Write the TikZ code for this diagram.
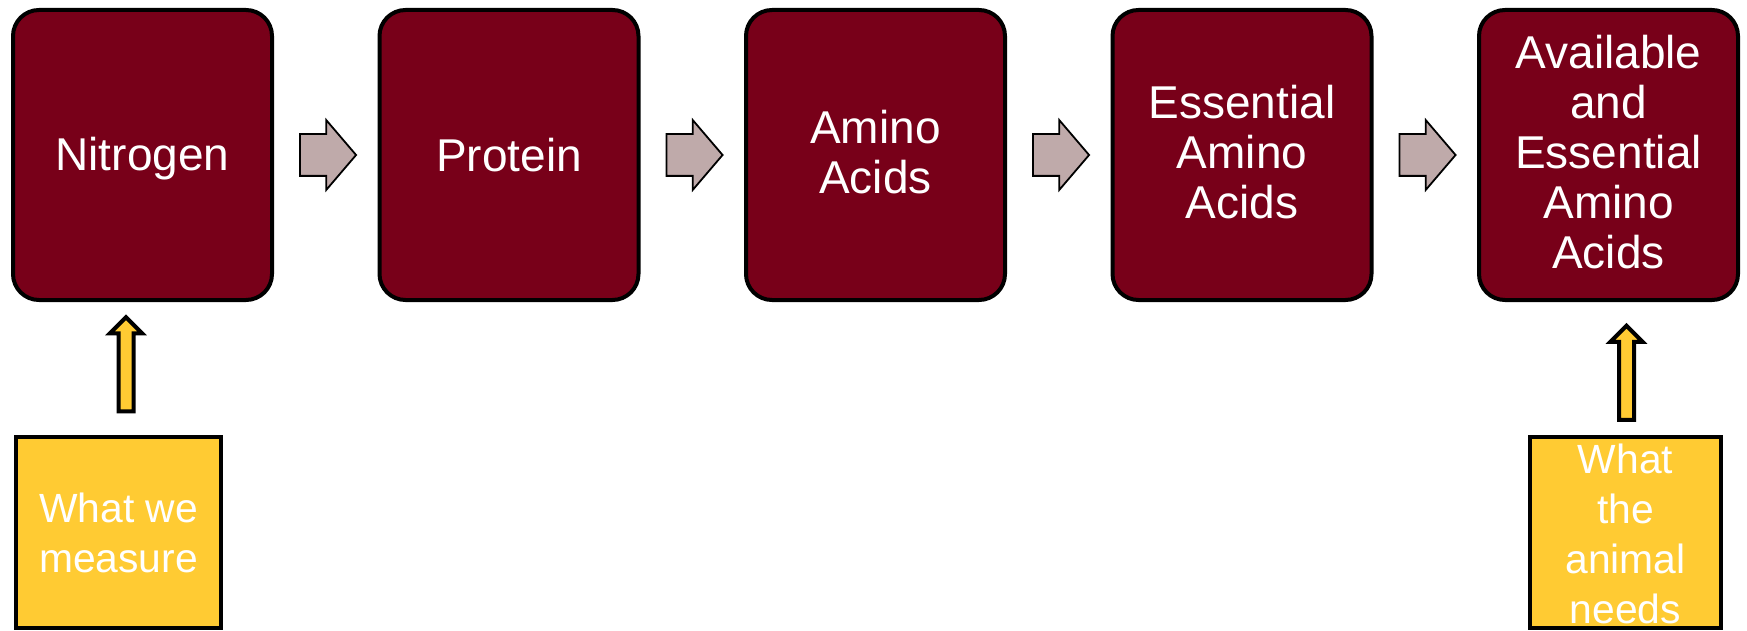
\documentclass[tikz,border=0pt]{standalone}
\usepackage{fontspec}
\setmainfont{Liberation Sans}
\usetikzlibrary{positioning,shapes.arrows,calc}
\definecolor{maroon}{RGB}{120,0,25}
\definecolor{chevfill}{RGB}{191,170,170}
\definecolor{notefill}{RGB}{255,203,51}
\newcommand\stagestrut{\rule[-3.5pt]{0pt}{23.5pt}}
\tikzset{
  stage/.style={draw=black,line width=2pt,fill=maroon,rounded corners=13pt,
    minimum width=129.5pt,minimum height=145pt,inner sep=0pt,align=center,
    text=white,font=\fontsize{23}{25}\selectfont,
    execute at begin node=\stagestrut,execute at end node=\stagestrut},
  chev/.style={single arrow,draw=black,line width=0.9pt,fill=chevfill,
    inner xsep=0pt,inner ysep=10pt,single arrow head extend=7pt,
    single arrow tip angle=99,minimum height=28pt,xshift=-3.3pt},
  note/.style={draw=black,line width=2pt,fill=notefill,minimum height=95.5pt,
    inner sep=0pt,align=center,text=white,font=\fontsize{20.4}{25}\selectfont},
  uparrow/.style={single arrow,draw=black,line width=2pt,fill=notefill,
    shape border rotate=90,inner xsep=2.75pt,inner ysep=0pt,
    single arrow head extend=4.25pt,minimum height=47pt}
}
\begin{document}
\begin{tikzpicture}[x=0.5pt,y=-0.5pt,node distance=51.75pt]
\useasboundingbox (0,0) rectangle (1747,631);

% the chain
\node[stage] (nitro) at (142.5,155) {Nitrogen};
\node[stage,right=of nitro] (prot) {Protein};
\node[stage,right=of prot] (amino) {Amino\\Acids};
\node[stage,right=of amino] (eaa) {Essential\\Amino\\Acids};
\node[stage,right=of eaa] (aeaa) {Available\\and\\Essential\\Amino\\Acids};

% block arrows between the stages
\foreach \a/\b in {nitro/prot,prot/amino,amino/eaa,eaa/aeaa}
  \node[chev] (\a-\b) at ($(\a.east)!0.5!(\b.west)$) {};

% notes below
\node[note,minimum width=102.5pt] (meas) at (118.5,532.5) {What we\\measure};
\node[note,minimum width=95.5pt] (needs) at (1625.5,532.5)
  {\parbox[c][0pt][c]{90pt}{\vspace*{7pt}\centering What\\the\\animal\\needs}};

% note arrows
\node[uparrow,xshift=-2.25pt,yshift=0.25pt] (up1)
  at ($(meas.north)!0.5!(nitro.south)$) {};
\node[uparrow,xshift=4.75pt,yshift=-4pt] (up2)
  at ($(needs.north)!0.5!(aeaa.south)$) {};

\end{tikzpicture}
\end{document}
